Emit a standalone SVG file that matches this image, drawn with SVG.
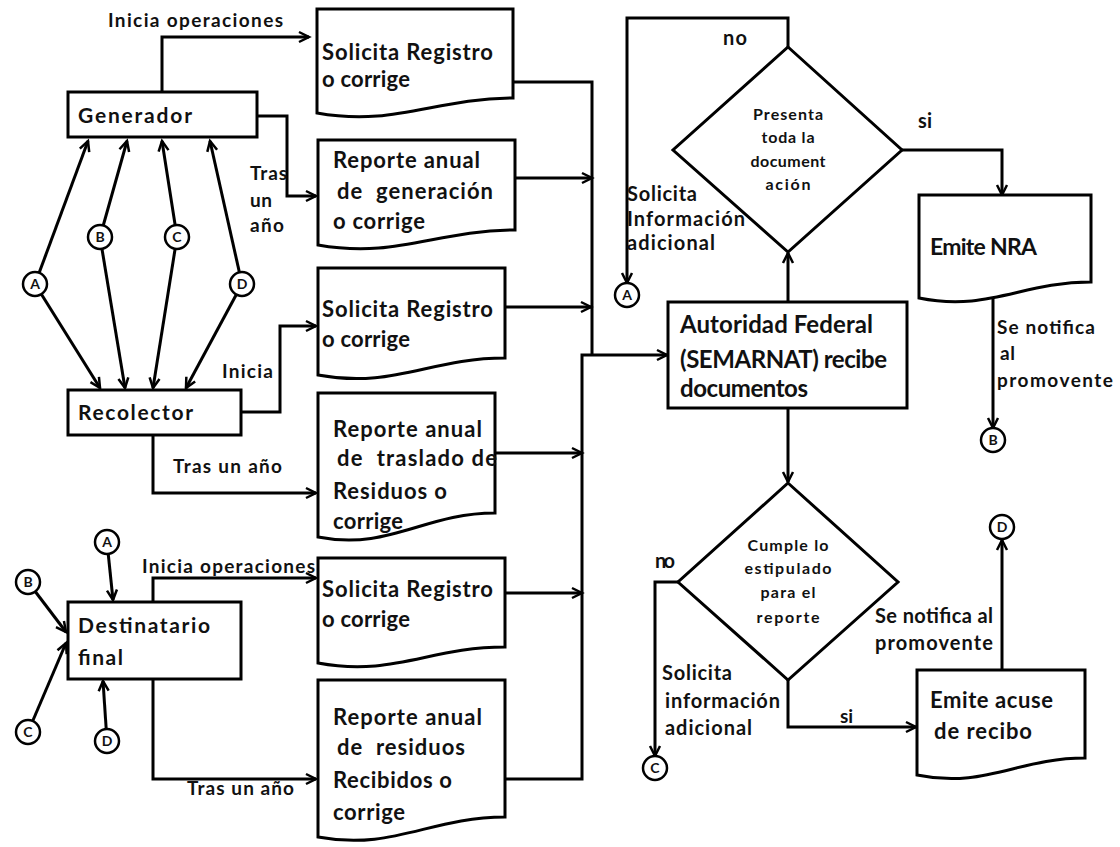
<svg xmlns="http://www.w3.org/2000/svg" width="1120" height="847" viewBox="0 0 1120 847">
  <style>
    .ln { fill: none; stroke: #000; stroke-width: 3; }
    .ar { marker-end: url(#arr); }
    .box { fill: #fff; stroke: #000; stroke-width: 3; }
    .ref { fill: #fff; stroke: #000; stroke-width: 2.5; }
    .t { font-family: Lato, "Liberation Sans", sans-serif; font-weight: 700; fill: #111; }
    .lbl { font-size: 19px; }
    .lbl2 { font-size: 20px; }
    .nd { font-size: 21px; }
    .doc { font-size: 22px; }
    .big { font-size: 24px; }
    .dec { font-size: 16px; text-anchor: middle; }
    .cl { font-size: 14px; text-anchor: middle; }
  </style>
  <defs>
    <marker id="arr" viewBox="0 0 12 12" refX="11" refY="6" markerWidth="12" markerHeight="12" markerUnits="userSpaceOnUse" orient="auto" overflow="visible">
      <path d="M1,1 L11,6 L1,11" fill="none" stroke="#000" stroke-width="2.5"/>
    </marker>
  </defs>
  <rect width="1120" height="847" fill="#fff"/>

  <!-- connectors -->
  <g id="connectors">
    <path class="ln ar" d="M162,92 V37 H309"/>
    <path class="ln ar" d="M257,116 H287 V196 H316"/>
    <path class="ln ar" d="M35,284 L88,141"/>
    <path class="ln ar" d="M100,237 L127,141"/>
    <path class="ln ar" d="M177,237 L162,141"/>
    <path class="ln ar" d="M242,284 L210,141"/>
    <path class="ln ar" d="M35,284 L100,388"/>
    <path class="ln ar" d="M100,237 L125,388"/>
    <path class="ln ar" d="M177,237 L153,388"/>
    <path class="ln ar" d="M242,284 L186,388"/>
    <path class="ln ar" d="M241,412 H280 V326 H316"/>
    <path class="ln ar" d="M153,435 V493 H316"/>
    <path class="ln ar" d="M107,542 L113,600"/>
    <path class="ln ar" d="M28,582 L66,632"/>
    <path class="ln ar" d="M28,732 L66,643"/>
    <path class="ln ar" d="M107,741 L103,681"/>
    <path class="ln ar" d="M153,602 V578 H316"/>
    <path class="ln ar" d="M153,679 V779 H316"/>
    <path class="ln" d="M513,82 H592 V355"/>
    <path class="ln ar" d="M515,178 H592"/>
    <path class="ln ar" d="M505,307 H591"/>
    <path class="ln ar" d="M495,453 H582"/>
    <path class="ln ar" d="M505,593 H582"/>
    <path class="ln ar" d="M498,779 H582 V355 H667"/>
    <path class="ln ar" d="M788,302 V253"/>
    <path class="ln ar" d="M788,47 V18 H627 V283"/>
    <path class="ln ar" d="M902,150 H1002 V195"/>
    <path class="ln ar" d="M993,297 V428"/>
    <path class="ln ar" d="M788,408 V482"/>
    <path class="ln ar" d="M678,582 H655 V756"/>
    <path class="ln ar" d="M788,680 V727 H916"/>
    <path class="ln ar" d="M1002,670 V540"/>
  </g>

  <!-- connector labels -->
  <g id="labels">
    <text class="t lbl" x="108" y="27" textLength="175">Inicia operaciones</text>
    <text class="t lbl" x="250" y="180" textLength="37">Tras</text>
    <text class="t lbl" x="250" y="207" textLength="22">un</text>
    <text class="t lbl" x="250" y="232" textLength="34">año</text>
    <text class="t lbl" x="222" y="378" textLength="51">Inicia</text>
    <text class="t lbl" x="173" y="473" textLength="109">Tras un año</text>
    <text class="t lbl" x="142" y="573" textLength="173">Inicia operaciones</text>
    <text class="t lbl" x="187" y="795" textLength="107">Tras un año</text>
    <text class="t lbl2" x="723" y="45" textLength="24">no</text>
    <text class="t lbl2" x="918" y="128" textLength="14">si</text>
    <text class="t lbl2" x="627" y="201" textLength="70">Solicita</text>
    <text class="t lbl2" x="627" y="226" textLength="118">Información</text>
    <text class="t lbl2" x="627" y="250" textLength="88">adicional</text>
    <text class="t lbl" x="997" y="334" textLength="98">Se notifica</text>
    <text class="t lbl" x="1000" y="360" textLength="15">al</text>
    <text class="t lbl" x="997" y="387" textLength="116">promovente</text>
    <text class="t lbl2" x="655" y="568" textLength="20">no</text>
    <text class="t lbl2" x="662" y="680" textLength="70">Solicita</text>
    <text class="t lbl2" x="665" y="708" textLength="115">información</text>
    <text class="t lbl2" x="665" y="735" textLength="87">adicional</text>
    <text class="t lbl" x="840" y="723" textLength="13">si</text>
    <text class="t lbl2" x="875" y="623" textLength="118">Se notifica al</text>
    <text class="t lbl2" x="875" y="650" textLength="118">promovente</text>
  </g>

  <!-- actors -->
  <g id="generador">
    <rect class="box" x="68" y="92" width="189" height="45"/>
    <text class="t nd" x="78" y="123" textLength="114">Generador</text>
  </g>
  <g id="recolector">
    <rect class="box" x="68" y="390" width="173" height="45"/>
    <text class="t nd" x="78" y="420" textLength="115">Recolector</text>
  </g>
  <g id="destinatario">
    <rect class="box" x="68" y="602" width="173" height="77"/>
    <text class="t nd" x="78" y="633" textLength="132">Destinatario</text>
    <text class="t nd" x="78" y="665" textLength="45">final</text>
  </g>

  <!-- documents -->
  <g id="doc-registro-gen">
    <path class="box" d="M317,9 H513 V98 C435,98 395,127 317,113 Z"/>
    <text class="t doc" x="322" y="60" textLength="171">Solicita Registro</text>
    <text class="t doc" x="322" y="87" textLength="88">o corrige</text>
  </g>
  <g id="doc-reporte-gen">
    <path class="box" d="M318,140 H515 V230 C436,230 397,259 318,245 Z"/>
    <text class="t doc" x="333" y="168" textLength="147">Reporte anual</text>
    <text class="t doc" x="337" y="199" textLength="156" xml:space="preserve">de  generación</text>
    <text class="t doc" x="333" y="229" textLength="92">o corrige</text>
  </g>
  <g id="doc-registro-rec">
    <path class="box" d="M318,268 H505 V358 C430,358 393,389 318,375 Z"/>
    <text class="t doc" x="322" y="317" textLength="171">Solicita Registro</text>
    <text class="t doc" x="322" y="347" textLength="88">o corrige</text>
  </g>
  <g id="doc-reporte-rec">
    <path class="box" d="M318,393 H495 V513 C424,513 389,551 318,537 Z"/>
    <text class="t doc" x="333" y="437" textLength="149">Reporte anual</text>
    <text class="t doc" x="337" y="466" textLength="160" xml:space="preserve">de  traslado de</text>
    <text class="t doc" x="333" y="499" textLength="114">Residuos o</text>
    <text class="t doc" x="333" y="529" textLength="70">corrige</text>
  </g>
  <g id="doc-registro-dest">
    <path class="box" d="M318,558 H505 V647 C430,647 393,677 318,663 Z"/>
    <text class="t doc" x="322" y="597" textLength="171">Solicita Registro</text>
    <text class="t doc" x="322" y="627" textLength="88">o corrige</text>
  </g>
  <g id="doc-reporte-dest">
    <path class="box" d="M318,680 H505 V817 C430,817 393,851 318,837 Z"/>
    <text class="t doc" x="333" y="725" textLength="149">Reporte anual</text>
    <text class="t doc" x="337" y="755" textLength="128" xml:space="preserve">de  residuos</text>
    <text class="t doc" x="333" y="788" textLength="119">Recibidos o</text>
    <text class="t doc" x="333" y="820" textLength="72">corrige</text>
  </g>

  <!-- authority -->
  <g id="autoridad">
    <rect class="box" x="668" y="302" width="239" height="106"/>
    <text class="t big" x="680" y="333" textLength="193">Autoridad Federal</text>
    <text class="t big" x="680" y="368" textLength="207">(SEMARNAT) recibe</text>
    <text class="t big" x="680" y="397" textLength="128">documentos</text>
  </g>
  <g id="decision-documentacion">
    <polygon class="box" points="788,47 902,150 788,252 673,150"/>
    <text class="t dec" x="788" y="120" textLength="70">Presenta</text>
    <text class="t dec" x="788" y="143" textLength="53">toda la</text>
    <text class="t dec" x="788" y="167" textLength="75">document</text>
    <text class="t dec" x="788" y="190" textLength="45">ación</text>
  </g>
  <g id="emite-nra">
    <path class="box" d="M919,195 H1091 V282 C1022,282 988,312 919,298 Z"/>
    <text class="t doc" x="930" y="255" textLength="107" style="font-size:23px">Emite NRA</text>
  </g>
  <g id="decision-reporte">
    <polygon class="box" points="788,483 898,582 788,680 678,582"/>
    <text class="t dec" x="788" y="551" textLength="81">Cumple lo</text>
    <text class="t dec" x="788" y="574" textLength="87">estipulado</text>
    <text class="t dec" x="788" y="598" textLength="55">para el</text>
    <text class="t dec" x="788" y="623" textLength="63">reporte</text>
  </g>
  <g id="emite-acuse">
    <path class="box" d="M917,670 H1085 V758 C1018,758 984,789 917,775 Z"/>
    <text class="t doc" x="930" y="708" textLength="123">Emite acuse</text>
    <text class="t doc" x="934" y="739" textLength="98">de recibo</text>
  </g>

  <!-- off-page references -->
  <g id="ref-a-1"><circle class="ref" cx="35" cy="284" r="12"/><text class="t cl" x="35" y="289">A</text></g>
  <g id="ref-b-1"><circle class="ref" cx="100" cy="237" r="12"/><text class="t cl" x="100" y="242">B</text></g>
  <g id="ref-c-1"><circle class="ref" cx="177" cy="237" r="12"/><text class="t cl" x="177" y="242">C</text></g>
  <g id="ref-d-1"><circle class="ref" cx="242" cy="284" r="12"/><text class="t cl" x="242" y="289">D</text></g>
  <g id="ref-a-2"><circle class="ref" cx="107" cy="542" r="12"/><text class="t cl" x="107" y="547">A</text></g>
  <g id="ref-b-2"><circle class="ref" cx="28" cy="582" r="12"/><text class="t cl" x="28" y="587">B</text></g>
  <g id="ref-c-2"><circle class="ref" cx="28" cy="732" r="12"/><text class="t cl" x="28" y="737">C</text></g>
  <g id="ref-d-2"><circle class="ref" cx="107" cy="741" r="12"/><text class="t cl" x="107" y="746">D</text></g>
  <g id="ref-a-out"><circle class="ref" cx="627" cy="295" r="12"/><text class="t cl" x="627" y="300">A</text></g>
  <g id="ref-b-out"><circle class="ref" cx="993" cy="440" r="12"/><text class="t cl" x="993" y="445">B</text></g>
  <g id="ref-c-out"><circle class="ref" cx="655" cy="768" r="12"/><text class="t cl" x="655" y="773">C</text></g>
  <g id="ref-d-out"><circle class="ref" cx="1002" cy="527" r="12"/><text class="t cl" x="1002" y="532">D</text></g>
</svg>
